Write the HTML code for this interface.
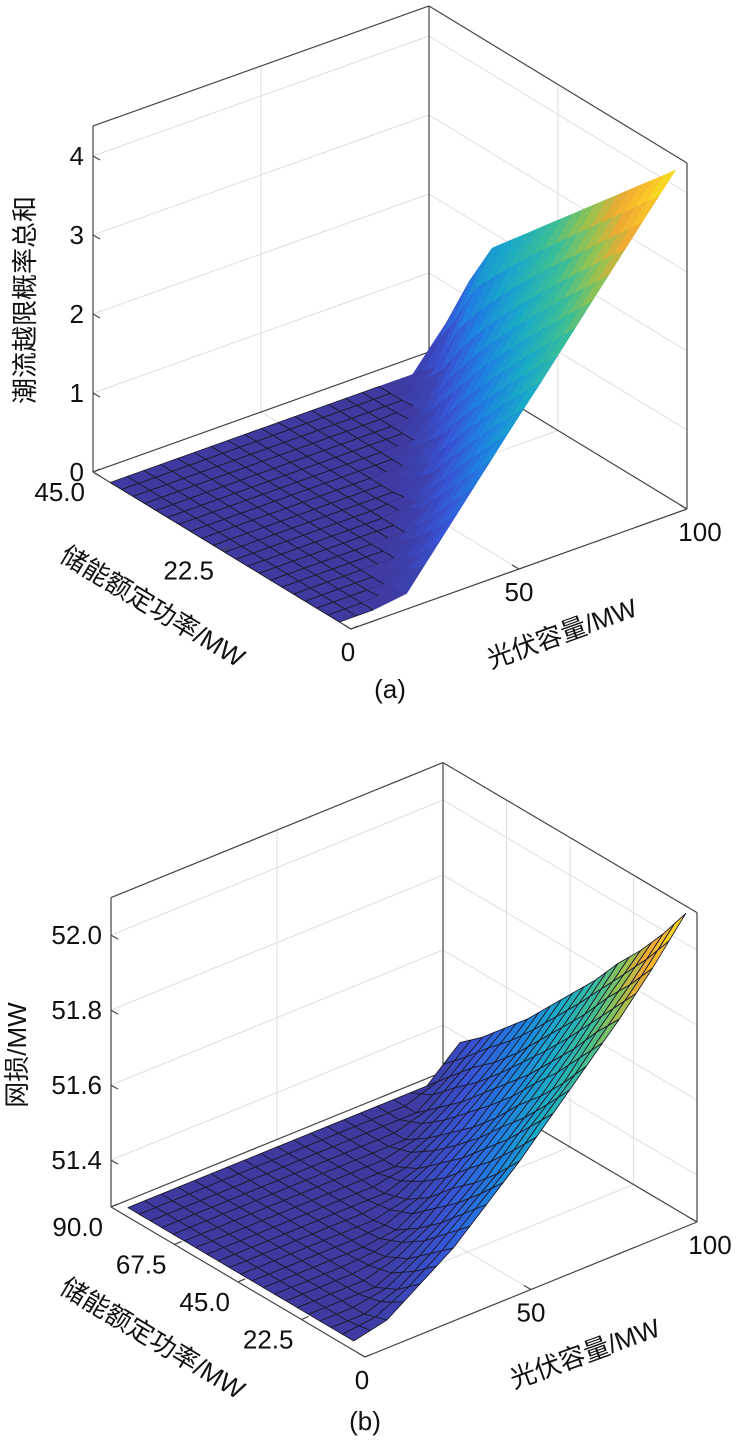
<!DOCTYPE html>
<html><head><meta charset="utf-8"><style>
html,body{margin:0;padding:0;background:#fff;}
svg text{font-family:"Liberation Sans","Noto Sans CJK SC",sans-serif;fill:#111;}
</style></head><body>
<svg id="fig" width="746" height="1441" viewBox="0 0 746 1441" xmlns="http://www.w3.org/2000/svg">
<g id="chartA"></g>
<g id="chartB"></g>
</svg>
<script>
// ---- Chart (a) data ----
const pvA = [0,10,20,30,40,50,60,70,80,90,100];
const esA = [2,6,10,14,18,22,26,30,34,38,42];
const zA = [
 [0,0,0.06,0.58,1.10,1.62,2.13,2.65,3.17,3.69,4.20],
 [0,0,0,0.19,0.72,1.25,1.78,2.31,2.84,3.37,3.90],
 [0,0,0,0,0.33,0.87,1.42,1.96,2.51,3.05,3.60],
 [0,0,0,0,0,0.47,1.04,1.60,2.17,2.73,3.30],
 [0,0,0,0,0,0.05,0.64,1.23,1.82,2.41,3.00],
 [0,0,0,0,0,0,0.20,0.83,1.45,2.08,2.70],
 [0,0,0,0,0,0,0,0.38,1.05,1.73,2.40],
 [0,0,0,0,0,0,0,0,0.60,1.35,2.10],
 [0,0,0,0,0,0,0,0,0.04,0.92,1.80],
 [0,0,0,0,0,0,0,0,0,0.26,1.20],
 [0,0,0,0,0,0,0,0,0,0,0.50]
];
const zTicksA = [0,1,2,3,4];
const zTickLabelsA = ["0","1","2","3","4"];
const esTicksA = [0,22.5,45];
const esTickLabelsA = ["","22.5","45.0"];
const pvTicksA = [0,50,100];
const pvTickLabelsA = ["0","50","100"];

// ---- Chart (b) data ----
const pvB = [0,10,20,30,40,50,60,70,80,90,100];
const esB = [4,12,20,28,36,44,52,60,68,76,84];
const zB = [
 [51.30,51.32,51.38,51.44,51.52,51.60,51.69,51.78,51.87,51.97,52.08],
 [51.30,51.30,51.33,51.39,51.46,51.53,51.62,51.70,51.80,51.89,51.99],
 [51.30,51.30,51.30,51.34,51.40,51.47,51.55,51.63,51.72,51.82,51.91],
 [51.30,51.30,51.30,51.31,51.35,51.42,51.49,51.57,51.65,51.74,51.84],
 [51.30,51.30,51.30,51.30,51.31,51.36,51.43,51.50,51.58,51.67,51.76],
 [51.30,51.30,51.30,51.30,51.30,51.32,51.38,51.44,51.52,51.60,51.69],
 [51.30,51.30,51.30,51.30,51.30,51.30,51.33,51.39,51.46,51.53,51.62],
 [51.30,51.30,51.30,51.30,51.30,51.30,51.30,51.34,51.40,51.47,51.55],
 [51.30,51.30,51.30,51.30,51.30,51.30,51.30,51.30,51.35,51.42,51.49],
 [51.30,51.30,51.30,51.30,51.30,51.30,51.30,51.30,51.30,51.36,51.43],
 [51.30,51.30,51.30,51.30,51.30,51.30,51.30,51.30,51.30,51.30,51.38]
];
const zTicksB = [51.4,51.6,51.8,52.0];
const zTickLabelsB = ["51.4","51.6","51.8","52.0"];
const esTicksB = [0,22.5,45,67.5,90];
const esTickLabelsB = ["","22.5","45.0","67.5","90.0"];
const pvTicksB = [0,50,100];
const pvTickLabelsB = ["0","50","100"];

const NS = "http://www.w3.org/2000/svg";
function mk(tag, attrs, parent){
  const e = document.createElementNS(NS, tag);
  for (const k in attrs) e.setAttribute(k, attrs[k]);
  parent.appendChild(e);
  return e;
}
const stops = [[0,[62,58,160]],[0.15,[55,85,215]],[0.3,[30,130,225]],[0.45,[25,170,200]],[0.6,[60,190,150]],[0.72,[150,195,80]],[0.82,[240,170,50]],[0.92,[250,200,40]],[1,[240,240,25]]];
function cmap(t){
  t=Math.max(0,Math.min(1,t));
  for(let i=1;i<stops.length;i++){
    if(t<=stops[i][0]){
      const a=stops[i-1],b=stops[i],f=(t-a[0])/(b[0]-a[0]);
      const c=a[1].map((v,k)=>Math.round(v+(b[1][k]-v)*f));
      return `rgb(${c[0]},${c[1]},${c[2]})`;
    }
  }
  return "rgb(240,240,25)";
}

function drawChart(g, cfg){
  const P=(pv,es,z)=>[cfg.front[0]+pv*cfg.u[0]+es*cfg.v[0], cfg.front[1]+pv*cfg.u[1]+es*cfg.v[1]-(z-cfg.zFloor)*cfg.kz];
  const pt=a=>a[0].toFixed(1)+","+a[1].toFixed(1);
  const zTop=cfg.zTop, zF=cfg.zFloor, PM=100, EM=cfg.esMax;
  const grid=mk("g",{},g);
  
  
  const gl=(a,b)=>mk("line",{x1:a[0],y1:a[1],x2:b[0],y2:b[1],stroke:"#dedede","stroke-width":1},grid);
  cfg.zTicks.forEach(z=>{ gl(P(0,EM,z),P(PM,EM,z)); gl(P(PM,EM,z),P(PM,0,z)); });
  gl(P(50,EM,zF),P(50,EM,zTop)); gl(P(50,EM,zF),P(50,0,zF));
  cfg.esTicks.forEach(e=>{ if(e>0&&e<EM){ gl(P(PM,e,zF),P(PM,e,zTop)); gl(P(PM,e,zF),P(0,e,zF)); } });
  const box=mk("g",{stroke:"#444","stroke-width":1.2,fill:"none"},g);
  
  
  const bl=(a,b)=>mk("line",{x1:a[0],y1:a[1],x2:b[0],y2:b[1]},box);
  bl(P(0,EM,zF),P(0,EM,zTop)); bl(P(PM,EM,zF),P(PM,EM,zTop)); bl(P(PM,0,zF),P(PM,0,zTop));
  bl(P(0,EM,zTop),P(PM,EM,zTop)); bl(P(PM,EM,zTop),P(PM,0,zTop));
  bl(P(0,EM,zF),P(PM,EM,zF)); bl(P(PM,EM,zF),P(PM,0,zF));
  bl(P(0,EM,zF),P(0,0,zF)); bl(P(0,0,zF),P(PM,0,zF));
  const surf=mk("g",{},g);
  
  
  const pvs=cfg.pv, ess=cfg.es, Z=cfg.z;
  const zmin=Math.min(...Z.flat()), zmax=Math.max(...Z.flat());
  const cells=[];
  const S=2;
  for(let j=0;j<ess.length-1;j++)for(let i=0;i<pvs.length-1;i++){
    for(let sj=0;sj<S;sj++)for(let si=0;si<S;si++){
      const f=(a,b)=>{
        const z00=Z[j][i],z10=Z[j][i+1],z01=Z[j+1][i],z11=Z[j+1][i+1];
        const z=z00*(1-a)*(1-b)+z10*a*(1-b)+z01*(1-a)*b+z11*a*b;
        return [pvs[i]+(pvs[i+1]-pvs[i])*a, ess[j]+(ess[j+1]-ess[j])*b, z];
      };
      const a0=si/S,a1=(si+1)/S,b0=sj/S,b1=(sj+1)/S;
      const q=[f(a0,b0),f(a1,b0),f(a1,b1),f(a0,b1)];
      const zm=(q[0][2]+q[1][2]+q[2][2]+q[3][2])/4;
      const depth=q.reduce((s,c)=>s+c[0]/PM+c[1]/EM,0);
      cells.push({q,zm,depth});
    }
  }
  cells.sort((a,b)=>b.depth-a.depth);
  cells.forEach(c=>{
    const col=cmap((c.zm-zmin)/(zmax-zmin));
    const edge = cfg.edgeAll || Math.max(...c.q.map(p=>p[2]))-zmin<0.03;
    const poly=mk("polygon",{points:c.q.map(p=>pt(P(p[0],p[1],p[2]))).join(" "),fill:col,stroke:edge?"#1c1c2c":col,"stroke-width":edge?0.9:0.6,"stroke-linejoin":"round"},surf);
    
    
  });
  const tk=mk("g",{stroke:"#444","stroke-width":1.2},g);
  
  
  const lab=mk("g",{"font-size":"26px"},g);
  
  
  cfg.zTicks.forEach((z,k)=>{
    const p=P(0,EM,z);
    mk("line",{x1:p[0],y1:p[1],x2:p[0]+7,y2:p[1]+4},tk);
    const t=mk("text",{x:p[0]-9,y:p[1]+9,"text-anchor":"end"},lab);
    t.textContent=cfg.zTickLabels[k];
    
    
  });
  cfg.esTicks.forEach((e,k)=>{
    const p=P(0,e,zF);
    mk("line",{x1:p[0],y1:p[1],x2:p[0]+7,y2:p[1]-3},tk);
    if(cfg.esTickLabels[k]){
      const t=mk("text",{x:p[0]-8,y:p[1]+29,"text-anchor":"end"},lab);
      t.textContent=cfg.esTickLabels[k];
      
      
    }
  });
  cfg.pvTicks.forEach((pv,k)=>{
    const p=P(pv,0,zF);
    mk("line",{x1:p[0],y1:p[1],x2:p[0]-7,y2:p[1]-4},tk);
    const t=mk("text",{x:p[0]+(pv===0?-3:(pv===100?13:0)),y:p[1]+32,"text-anchor":"middle"},lab);
    t.textContent=cfg.pvTickLabels[k];
    
    
  });
  const zt=mk("text",{x:cfg.zTitle[0],y:cfg.zTitle[1],"font-size":"26px","text-anchor":"middle",transform:`rotate(-90 ${cfg.zTitle[0]} ${cfg.zTitle[1]})`},g);
  zt.textContent=cfg.zTitleText;
  
  
  const et=mk("text",{x:cfg.esTitle[0],y:cfg.esTitle[1],"font-size":"26px","text-anchor":"middle",transform:`rotate(31 ${cfg.esTitle[0]} ${cfg.esTitle[1]})`},g);
  et.textContent="储能额定功率/MW";
  
  
  const pt2=mk("text",{x:cfg.pvTitle[0],y:cfg.pvTitle[1],"font-size":"26px","text-anchor":"middle",transform:`rotate(-20 ${cfg.pvTitle[0]} ${cfg.pvTitle[1]})`},g);
  pt2.textContent="光伏容量/MW";
  
  
  const sl=mk("text",{x:cfg.sub[0],y:cfg.sub[1],"font-size":"26px","text-anchor":"middle"},g);
  sl.textContent=cfg.subText;
  
  
}

drawChart(document.getElementById('chartA'),{
  front:[351,629],u:[3.36,-1.20],v:[-5.733,-3.489],zFloor:0,kz:79,zTop:4.38,esMax:45,
  pv:pvA,es:esA,z:zA,edgeAll:false,
  zTicks:zTicksA,zTickLabels:zTickLabelsA,esTicks:esTicksA,esTickLabels:esTickLabelsA,pvTicks:pvTicksA,pvTickLabels:pvTickLabelsA,
  zTitle:[34,300],zTitleText:"潮流越限概率总和",esTitle:[148,614],pvTitle:[565,642],sub:[390,698],subText:"(a)"
});
drawChart(document.getElementById('chartB'),{
  front:[365,1357],u:[3.32,-1.35],v:[-2.822,-1.667],zFloor:51.275,kz:375,zTop:52.1,esMax:90,
  pv:pvB,es:esB,z:zB,edgeAll:true,
  zTicks:zTicksB,zTickLabels:zTickLabelsB,esTicks:esTicksB,esTickLabels:esTickLabelsB,pvTicks:pvTicksB,pvTickLabels:pvTickLabelsB,
  zTitle:[26,1055],zTitleText:"网损/MW",esTitle:[148,1346],pvTitle:[588,1362],sub:[365,1430],subText:"(b)"
});
</script>
</body></html>
